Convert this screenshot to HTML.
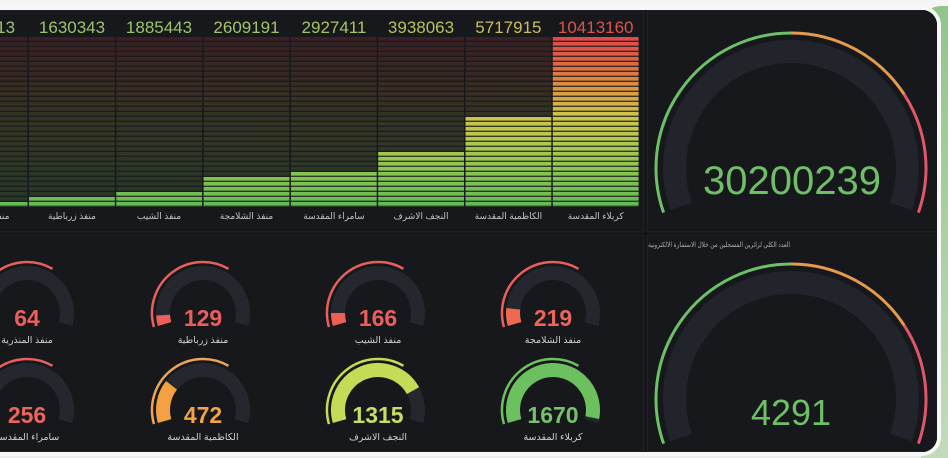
<!DOCTYPE html>
<html><head><meta charset="utf-8"><style>
html,body{margin:0;padding:0;background:#ededed;width:948px;height:458px;overflow:hidden}
svg{display:block}
text{font-family:"Liberation Sans","DejaVu Sans",sans-serif}
</style></head><body>
<svg width="948" height="458" viewBox="0 0 948 458" xmlns="http://www.w3.org/2000/svg" overflow="hidden">
<defs>
<linearGradient id="gg" x1="0" y1="0" x2="0" y2="1">
<stop offset="0" stop-color="#92c48c"/><stop offset="1" stop-color="#c2dbba"/>
</linearGradient>
<linearGradient id="gb" gradientUnits="userSpaceOnUse" x1="0" y1="207" x2="0" y2="37">
<stop offset="0" stop-color="#62ba55"/><stop offset="0.2" stop-color="#88c552"/><stop offset="0.4" stop-color="#b6c94c"/><stop offset="0.55" stop-color="#d0c248"/><stop offset="0.68" stop-color="#dc9c42"/><stop offset="0.83" stop-color="#df6c40"/><stop offset="1" stop-color="#e2474a"/>
</linearGradient>
<linearGradient id="gd" gradientUnits="userSpaceOnUse" x1="0" y1="207" x2="0" y2="37">
<stop offset="0" stop-color="#62ba55" stop-opacity="0.19"/><stop offset="0.2" stop-color="#88c552" stop-opacity="0.18"/><stop offset="0.4" stop-color="#b6c94c" stop-opacity="0.17"/><stop offset="0.55" stop-color="#d0c248" stop-opacity="0.16"/><stop offset="0.68" stop-color="#dc9c42" stop-opacity="0.16"/><stop offset="0.83" stop-color="#df6c40" stop-opacity="0.16"/><stop offset="1" stop-color="#e2474a" stop-opacity="0.17"/>
</linearGradient>
<pattern id="st" patternUnits="userSpaceOnUse" x="0" y="37" width="20" height="5">
<rect x="0" y="3.6" width="20" height="1.4" fill="#17181c" opacity="0.8"/>
</pattern>
<clipPath id="cp"><path d="M-20 10 L922 10 A15 15 0 0 1 937 25 L937 437 A15 15 0 0 1 922 452 L-20 452 Z"/></clipPath>
</defs>

<rect width="948" height="458" fill="#ececec"/>
<rect x="0" y="0" width="948" height="9" fill="#f5f5f5"/>
<path d="M941 6 L948 6 L948 458 L921 458 L921 26 A20 20 0 0 1 941 6 Z" fill="url(#gg)"/>
<path d="M-10 8 L922 8 A17 17 0 0 1 939 25 L939 437 A17 17 0 0 1 922 454 L-10 454 Z" fill="#101114" stroke="#f7f7f7" stroke-width="4"/>

<g clip-path="url(#cp)">
<rect x="-10" y="10" width="950" height="442" fill="#101114"/>
<!-- panels -->
<rect x="-2" y="10" width="646" height="222" fill="#17181c" stroke="#24252a" stroke-width="1"/>
<rect x="647" y="10" width="292" height="222" fill="#17181c" stroke="#24252a" stroke-width="1"/>
<rect x="-2" y="235" width="646" height="217" fill="#17181c" stroke="#24252a" stroke-width="1"/>
<rect x="647" y="235" width="292" height="217" fill="#17181c" stroke="#24252a" stroke-width="1"/>

<!-- bar gauge -->
<g>
<rect x="0" y="37" width="27.5" height="170" fill="url(#gd)"/>
<rect x="29" y="37" width="85.8" height="170" fill="url(#gd)"/>
<rect x="116.3" y="37" width="85.8" height="170" fill="url(#gd)"/>
<rect x="203.6" y="37" width="85.8" height="170" fill="url(#gd)"/>
<rect x="290.9" y="37" width="85.8" height="170" fill="url(#gd)"/>
<rect x="378.2" y="37" width="85.8" height="170" fill="url(#gd)"/>
<rect x="465.5" y="37" width="85.8" height="170" fill="url(#gd)"/>
<rect x="552.8" y="37" width="85.8" height="170" fill="url(#gd)"/>

<rect x="0" y="202" width="27.5" height="5" fill="url(#gb)"/>
<rect x="29" y="197" width="85.8" height="10" fill="url(#gb)"/>
<rect x="116.3" y="192" width="85.8" height="15" fill="url(#gb)"/>
<rect x="203.6" y="177" width="85.8" height="30" fill="url(#gb)"/>
<rect x="290.9" y="172" width="85.8" height="35" fill="url(#gb)"/>
<rect x="378.2" y="152" width="85.8" height="55" fill="url(#gb)"/>
<rect x="465.5" y="117" width="85.8" height="90" fill="url(#gb)"/>
<rect x="552.8" y="37" width="85.8" height="170" fill="url(#gb)"/>
<rect x="0" y="37" width="640" height="170" fill="url(#st)"/>
</g>
<g font-size="17" text-anchor="middle">
<text x="-18" y="33" fill="#9cc46a">1354413</text>
<text x="72" y="33" fill="#9cc46a">1630343</text>
<text x="159" y="33" fill="#9cc46a">1885443</text>
<text x="246.5" y="33" fill="#a0c468">2609191</text>
<text x="334" y="33" fill="#a6c466">2927411</text>
<text x="421" y="33" fill="#b6c25e">3938063</text>
<text x="508.4" y="33" fill="#c8c05a">5717915</text>
<text x="595.7" y="33" fill="#e0524e">10413160</text>
</g>
<g font-size="9" text-anchor="middle" fill="#c4c4c4">
<text x="-15" y="219">منفذ المنذرية</text>
<text x="72" y="219">منفذ زرباطية</text>
<text x="159" y="219">منفذ الشيب</text>
<text x="246.5" y="219">منفذ الشلامجة</text>
<text x="334" y="219">سامراء المقدسة</text>
<text x="421" y="219">النجف الاشرف</text>
<text x="508.4" y="219">الكاظمية المقدسة</text>
<text x="595.7" y="219">كربلاء المقدسة</text>
</g>

<!-- big gauge top -->
<g fill="none">
<path d="M681.05 206.5 A116.5 116.5 0 1 1 900.95 206.5" stroke="#22242b" stroke-width="23"/>
<path d="M663.59 212.62 A135 135 0 0 1 791 33" stroke="#6dbf68" stroke-width="3"/>
<path d="M791 33 A135 135 0 0 1 904.22 94.48" stroke="#e59a4e" stroke-width="3"/>
<path d="M904.22 94.48 A135 135 0 0 1 918.41 212.62" stroke="#e0566a" stroke-width="3"/>
</g>
<text x="792" y="194" font-size="40" text-anchor="middle" fill="#6fbf67">30200239</text>

<!-- big gauge bottom -->
<text x="648" y="247" font-size="7" fill="#b0b0b0" textLength="142" lengthAdjust="spacingAndGlyphs">العدد الكلي لزائرين المسجلين من خلال الاستمارة الالكترونية</text>
<g fill="none">
<path d="M681.05 437.5 A116.5 116.5 0 1 1 900.95 437.5" stroke="#22242b" stroke-width="23"/>
<path d="M663.59 443.62 A135 135 0 0 1 791 264" stroke="#6dbf68" stroke-width="3"/>
<path d="M791 264 A135 135 0 0 1 904.22 325.48" stroke="#e59a4e" stroke-width="3"/>
<path d="M904.22 325.48 A135 135 0 0 1 918.41 443.62" stroke="#e0566a" stroke-width="3"/>
</g>
<text x="791" y="425" font-size="36" text-anchor="middle" fill="#6fbf67">4291</text>

<!-- small gauges row 1 -->
<g fill="none">
<path d="M-11.45 324.03 A40 40 0 1 1 65.45 324.03" stroke="#25272e" stroke-width="14"/>
<path d="M-11.45 324.03 A40 40 0 0 1 -12.39 319.95" stroke="#ea5f5a" stroke-width="14"/>
<path d="M-22.03 327.06 A51 51 0 0 1 52.5 268.83" stroke="#e8605e" stroke-width="2.5"/>

<path d="M164.55 324.03 A40 40 0 1 1 241.45 324.03" stroke="#25272e" stroke-width="14"/>
<path d="M164.55 324.03 A40 40 0 0 1 163.05 315.09" stroke="#ea5f5a" stroke-width="14"/>
<path d="M153.97 327.06 A51 51 0 0 1 228.5 268.83" stroke="#e8605e" stroke-width="2.5"/>

<path d="M339.55 324.03 A40 40 0 1 1 416.45 324.03" stroke="#25272e" stroke-width="14"/>
<path d="M339.55 324.03 A40 40 0 0 1 338 313" stroke="#ec5f52" stroke-width="14"/>
<path d="M328.97 327.06 A51 51 0 0 1 403.5 268.83" stroke="#e8605e" stroke-width="2.5"/>

<path d="M514.55 324.03 A40 40 0 1 1 591.45 324.03" stroke="#25272e" stroke-width="14"/>
<path d="M514.55 324.03 A40 40 0 0 1 513.22 308.82" stroke="#ee6a4e" stroke-width="14"/>
<path d="M503.97 327.06 A51 51 0 0 1 578.5 268.83" stroke="#e8605e" stroke-width="2.5"/>
</g>
<g font-size="23" font-weight="bold" text-anchor="middle">
<text x="27" y="326" fill="#ea5f5c">64</text>
<text x="203" y="326" fill="#ea5f5c">129</text>
<text x="378" y="326" fill="#ea5f5c">166</text>
<text x="553" y="326" fill="#ea655c">219</text>
</g>
<g font-size="9.5" text-anchor="middle" fill="#cfcfcf">
<text x="27" y="343">منفذ المنذرية</text>
<text x="203" y="343">منفذ زرباطية</text>
<text x="378" y="343">منفذ الشيب</text>
<text x="553" y="343">منفذ الشلامجة</text>
</g>

<!-- small gauges row 2 -->
<g fill="none">
<path d="M-11.45 421.03 A40 40 0 1 1 65.45 421.03" stroke="#25272e" stroke-width="14"/>
<path d="M-11.45 421.03 A40 40 0 0 1 -12.39 403.05" stroke="#ee6a4e" stroke-width="14"/>
<path d="M-22.03 424.06 A51 51 0 0 1 52.5 365.83" stroke="#e8605e" stroke-width="2.5"/>

<path d="M164.55 421.03 A40 40 0 1 1 241.45 421.03" stroke="#25272e" stroke-width="14"/>
<path d="M164.55 421.03 A40 40 0 0 1 171.48 385.37" stroke="#f4a043" stroke-width="14"/>
<path d="M153.97 424.06 A51 51 0 0 1 228.5 365.83" stroke="#eea456" stroke-width="2.5"/>

<path d="M339.55 421.03 A40 40 0 1 1 416.45 421.03" stroke="#25272e" stroke-width="14"/>
<path d="M339.55 421.03 A40 40 0 0 1 412.98 390.61" stroke="#c3dc55" stroke-width="14"/>
<path d="M328.97 424.06 A51 51 0 0 1 403.5 365.83" stroke="#c3dc55" stroke-width="2.5"/>

<path d="M514.55 421.03 A40 40 0 1 1 591.45 421.03" stroke="#25272e" stroke-width="14"/>
<path d="M514.55 421.03 A40 40 0 1 1 592.27 417.63" stroke="#6cc060" stroke-width="14"/>
<path d="M503.97 424.06 A51 51 0 0 1 578.5 365.83" stroke="#6cc060" stroke-width="2.5"/>
</g>
<g font-size="23" font-weight="bold" text-anchor="middle">
<text x="27" y="423" fill="#ea655c">256</text>
<text x="203" y="423" fill="#f2a347">472</text>
<text x="378" y="423" fill="#c8dd62">1315</text>
<text x="553" y="423" fill="#75c26a">1670</text>
</g>
<g font-size="9.5" text-anchor="middle" fill="#cfcfcf">
<text x="27" y="440">سامراء المقدسة</text>
<text x="203" y="440">الكاظمية المقدسة</text>
<text x="378" y="440">النجف الاشرف</text>
<text x="553" y="440">كربلاء المقدسة</text>
</g>
</g>
</svg>
</body></html>
